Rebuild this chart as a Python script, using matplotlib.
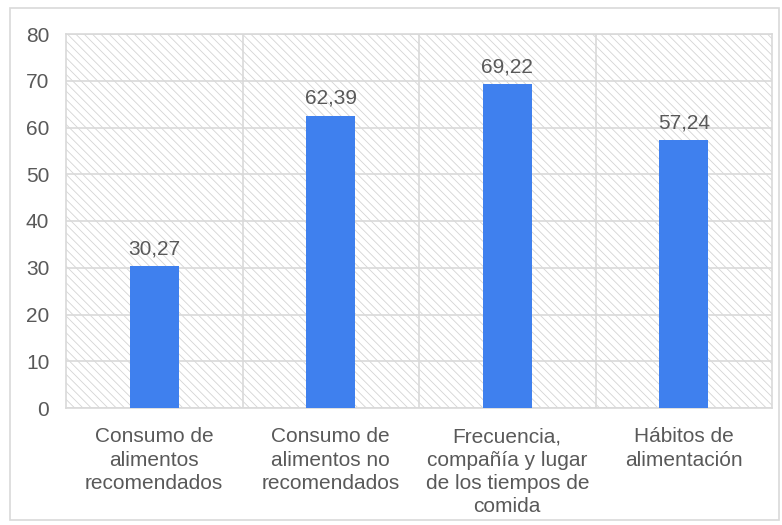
import matplotlib.pyplot as plt
from matplotlib.patches import Rectangle
import numpy as np

plt.rcParams['font.family'] = ['Liberation Sans', 'DejaVu Sans']
plt.rcParams['hatch.linewidth'] = 0.6

categorias = ['Consumo de\nalimentos\nrecomendados',
              'Consumo de\nalimentos no\nrecomendados',
              'Frecuencia,\ncompañía y lugar\nde los tiempos de\ncomida',
              'Hábitos de\nalimentación']
valores = [30.27, 62.39, 69.22, 57.24]
etiquetas = ['30,27', '62,39', '69,22', '57,24']

gris = '#d9d9d9'
texto = '#595959'
azul = '#3f80ee'
fs = 15

fig = plt.figure(figsize=(7.82, 5.25), dpi=100)
# marco exterior del grafico
fig.patches.append(Rectangle((10/782, 5/525), 769/782, 512/525, transform=fig.transFigure,
                             facecolor='none', edgecolor=gris, linewidth=1.2))
ax = fig.add_axes([66/782, 117/525, 706/782, 374/525])

x = np.arange(len(valores))
# fondo rayado
ax.add_patch(Rectangle((0, 0), 1, 1, transform=ax.transAxes, facecolor='white',
                       edgecolor='#d4d4d4', linewidth=0, hatch='\\\\\\\\', zorder=0))
ax.bar(x, valores, width=0.28, color=azul, zorder=3)
for xi, v, e in zip(x, valores, etiquetas):
    ax.annotate(e, (xi, v), xytext=(0, 6), textcoords='offset points', ha='center',
                va='bottom', fontsize=fs, color=texto)

ax.set_xlim(-0.5, len(valores) - 0.5)
ax.set_ylim(0, 80)
ax.set_yticks(range(0, 81, 10))
ax.set_xticks(x)
ax.set_xticklabels(categorias, linespacing=1.28)
ax.set_xticks(np.arange(0.5, len(valores) - 1, 1), minor=True)
ax.grid(axis='y', color=gris, linewidth=1.2, zorder=1)
ax.grid(axis='x', which='minor', color=gris, linewidth=1.2, zorder=1)
ax.tick_params(axis='both', which='both', length=0, labelsize=fs, labelcolor=texto)
ax.tick_params(axis='y', pad=12)
ax.tick_params(axis='x', pad=14)
for s in ax.spines.values():
    s.set_color(gris)
    s.set_linewidth(1.2)

fig.savefig('out.png', dpi=100)
